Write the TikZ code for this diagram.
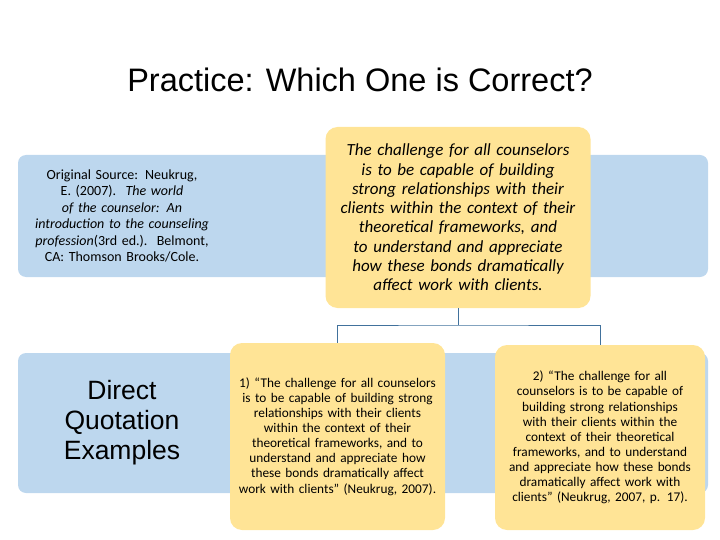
\documentclass[tikz,border=0pt]{standalone}
\usepackage{fontspec}
\setmainfont{Carlito}
\newfontfamily\titlefont{Liberation Sans}
\begin{document}
\begin{tikzpicture}[x=1pt,y=-1pt,
  band/.style={fill={rgb,255:red,189;green,215;blue,238}, rounded corners=8pt, draw=none},
  ybox/.style={fill={rgb,255:red,255;green,228;blue,150}, rounded corners=12pt, draw=none, align=center, inner sep=4pt},
  conn/.style={draw={rgb,255:red,65;green,113;blue,156}, line width=1pt}]
\hyphenpenalty=10000
\useasboundingbox (0,0) rectangle (720,540);
\node[font=\titlefont\fontsize{32.5}{36}\selectfont] (title) at (360,80) {Practice: Which One is Correct?};
\fill[band] (18,155) rectangle (708,277);
\fill[band] (18,353) rectangle (708,493);
\node[align=center, font=\fontsize{14}{16.5}\selectfont, text width=192pt] (src) at (122,216)
 {Original Source: Neukrug, E. (2007).\ \ \textit{The world of the counselor: An introduction to the counseling profession}(3rd ed.).\ \ Belmont, CA: Thomson Brooks/Cole.};
\node[align=center, font=\titlefont\fontsize{26.5}{30}\selectfont] (dq) at (122,423) {Direct\\Quotation\\Examples};
\node[ybox, minimum width=265pt, minimum height=181pt, text width=252pt, font=\itshape\fontsize{17}{19.3}\selectfont] (top) at (458,217.5)
 {The challenge for all counselors is to be capable of building strong relationships with their clients within the context of their theoretical frameworks, and to understand and appreciate how these bonds dramatically affect work with clients.};
\node[ybox, minimum width=215pt, minimum height=187pt, text width=206pt, font=\fontsize{13.3}{15.1}\selectfont] (b1) at (337.5,436.5)
 {1) ``The challenge for all counselors is to be capable of building strong relationships with their clients within the context of their theoretical frameworks, and to understand and appreciate how these bonds dramatically affect work with clients'' (Neukrug, 2007).};
\node[ybox, minimum width=210pt, minimum height=185pt, text width=200pt, font=\fontsize{13.3}{15.1}\selectfont] (b2) at (600,437.5)
 {2) ``The challenge for all counselors is to be capable of building strong relationships with their clients within the context of their theoretical frameworks, and to understand and appreciate how these bonds dramatically affect work with clients'' (Neukrug, 2007, p. 17).};
\coordinate (m) at (458,325);
\draw[conn] (top.south) -- (m);
\draw[conn] (b1.north) |- (m) -| (b2.north);
\end{tikzpicture}
\end{document}
